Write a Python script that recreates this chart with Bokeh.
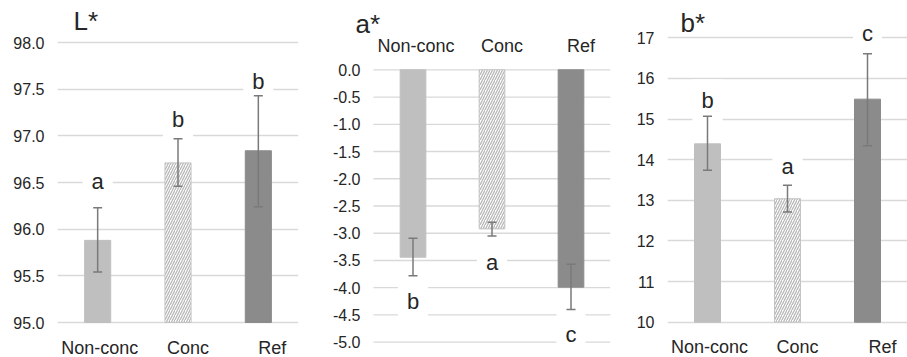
from bokeh.plotting import figure
from bokeh.layouts import row
from bokeh.models import (Range1d, FixedTicker, ColumnDataSource, Whisker, TeeHead)
from bokeh.core.properties import value
from bokeh.embed import file_html
from bokeh.resources import INLINE

categories = ["Non-conc", "Conc", "Ref"]

L_mean = [95.88, 96.71, 96.84]
L_upper = [96.23, 96.97, 97.43]
L_lower = [95.54, 96.46, 96.24]
L_letters = ["a", "b", "b"]
L_letter_y = [96.51, 97.18, 97.58]
L_ticks = [95.0, 95.5, 96.0, 96.5, 97.0, 97.5, 98.0]

a_mean = [-3.44, -2.92, -3.99]
a_upper = [-3.09, -2.80, -3.57]
a_lower = [-3.78, -3.05, -4.40]
a_letters = ["b", "a", "c"]
a_letter_y = [-4.26, -3.54, -4.86]
a_ticks = [0.0, -0.5, -1.0, -1.5, -2.0, -2.5, -3.0, -3.5, -4.0, -4.5, -5.0]

b_mean = [14.39, 13.04, 15.49]
b_upper = [15.07, 13.37, 16.61]
b_lower = [13.74, 12.71, 14.34]
b_letters = ["b", "a", "c"]
b_letter_y = [15.45, 13.82, 17.10]
b_ticks = [10, 11, 12, 13, 14, 15, 16, 17]

FONT = "Liberation Sans"
TXT = "#262626"
GRID = "#d9d9d9"
FILLS = ["#bfbfbf", "white", "#8b8b8b"]
HATCH = [" ", "/", " "]
OUTL = ["#bfbfbf", "#c4c4c4", "#8b8b8b"]
H = 357


def panel(title, mean, upper, lower, letters, letter_y, ticks, base, fmt,
          width, border_l, border_r, tick_px, label_dy, label_dx, title_pos,
          manual_left=0):
    # tick_px: pixel rows (from top of figure) of the highest and lowest ticks
    # manual_left: pixels between figure frame start and the plot area (own axis)
    n = len(categories)
    tmax, tmin = max(ticks), min(ticks)
    scale = (tick_px[1] - tick_px[0]) / (tmax - tmin)
    y_end = tmax + tick_px[0] / scale
    y_start = tmin - (H - tick_px[1]) / scale
    plot_w = width - border_l - border_r - manual_left
    xunit = n / plot_w
    x_start = -manual_left * xunit
    p = figure(width=width, height=H, x_range=Range1d(x_start, n),
               y_range=Range1d(y_start, y_end), output_backend="svg",
               toolbar_location=None, x_axis_location=None,
               y_axis_location=None if manual_left else "left",
               min_border_left=border_l, min_border_right=border_r,
               min_border_top=0, min_border_bottom=0)
    p.outline_line_color = None
    p.background_fill_color = "white"
    p.border_fill_color = "white"
    p.xgrid.grid_line_color = None

    xs = [i + 0.5 for i in range(n)]
    labels_txt = [fmt.format(t) for t in ticks]

    if manual_left:
        p.ygrid.grid_line_color = None
        p.segment(x0=[0] * len(ticks), x1=[n] * len(ticks), y0=ticks, y1=ticks,
                  line_color=GRID, line_width=1.3)
        p.text(x=[0] * len(ticks), y=ticks, text=labels_txt, x_offset=-13,
               text_align="right", text_baseline="middle", text_font_size="16px",
               text_font=value(FONT), text_color=TXT)
    else:
        p.ygrid.grid_line_color = GRID
        p.ygrid.grid_line_width = 1.3
        p.ygrid.ticker = FixedTicker(ticks=ticks)
        ya = p.yaxis[0]
        ya.ticker = FixedTicker(ticks=ticks)
        ya.major_label_overrides = {t: s for t, s in zip(ticks, labels_txt)}
        ya.axis_line_color = None
        ya.major_tick_line_color = None
        ya.minor_tick_line_color = None
        ya.major_tick_out = 0
        ya.major_label_standoff = 13
        ya.major_label_text_font = FONT
        ya.major_label_text_font_size = "16px"
        ya.major_label_text_color = TXT

    # significance letters first (white boxes mask gridlines)
    p.text(x=xs, y=letter_y, text=letters, text_align="center",
           text_baseline="middle", text_font_size="22px", text_font=value(FONT),
           text_color=TXT, background_fill_color="white", padding=9)

    # category labels
    p.text(x=xs, y=[base] * n, text=categories, x_offset=label_dx,
           y_offset=label_dy, text_align="center", text_baseline="middle",
           text_font_size="18px", text_font=value(FONT), text_color=TXT)

    src = ColumnDataSource(dict(x=xs, top=mean, bottom=[base] * n,
                                fill=FILLS, hatch=HATCH, outl=OUTL,
                                upper=upper, lower=lower))
    p.vbar(x="x", top="top", bottom="bottom", width=0.325, source=src,
           fill_color="fill", line_color="outl", line_width=1,
           hatch_pattern="hatch", hatch_color="#b8b8b8", hatch_scale=5,
           hatch_weight=1.3)
    w = Whisker(base="x", upper="upper", lower="lower", source=src,
                line_color="#7a7a7a", line_width=1.5, level="annotation",
                upper_head=TeeHead(size=9, line_color="#7a7a7a", line_width=1.5),
                lower_head=TeeHead(size=9, line_color="#7a7a7a", line_width=1.5))
    p.add_layout(w)

    tx, ty = title_pos
    p.text(x=[0], y=[y_end], text=[title], x_offset=tx, y_offset=ty,
           text_align="left", text_baseline="alphabetic", text_font_size="26px",
           text_font=value(FONT), text_color=TXT)
    return p


p1 = panel("L*", L_mean, L_upper, L_lower, L_letters, L_letter_y, L_ticks, 95.0,
           "{:.1f}", 305, 57, 7, (42, 322), 25, [2, 10, 14], (16, 20))
p2 = panel("a*", a_mean, a_upper, a_lower, a_letters, a_letter_y, a_ticks, 0.0,
           "{:.1f}", 307, 0, 2, (69.3, 341.7), -24, [3, 10, 10], (-18, 23),
           manual_left=68)
p3 = panel("b*", b_mean, b_upper, b_lower, b_letters, b_letter_y, b_ticks, 10,
           "{:.0f}", 295, 55, 0, (37.3, 321.7), 25, [2, 10, 15], (13, 22))

layout = row(p1, p2, p3)
open("out.html", "w").write(file_html(layout, INLINE))
